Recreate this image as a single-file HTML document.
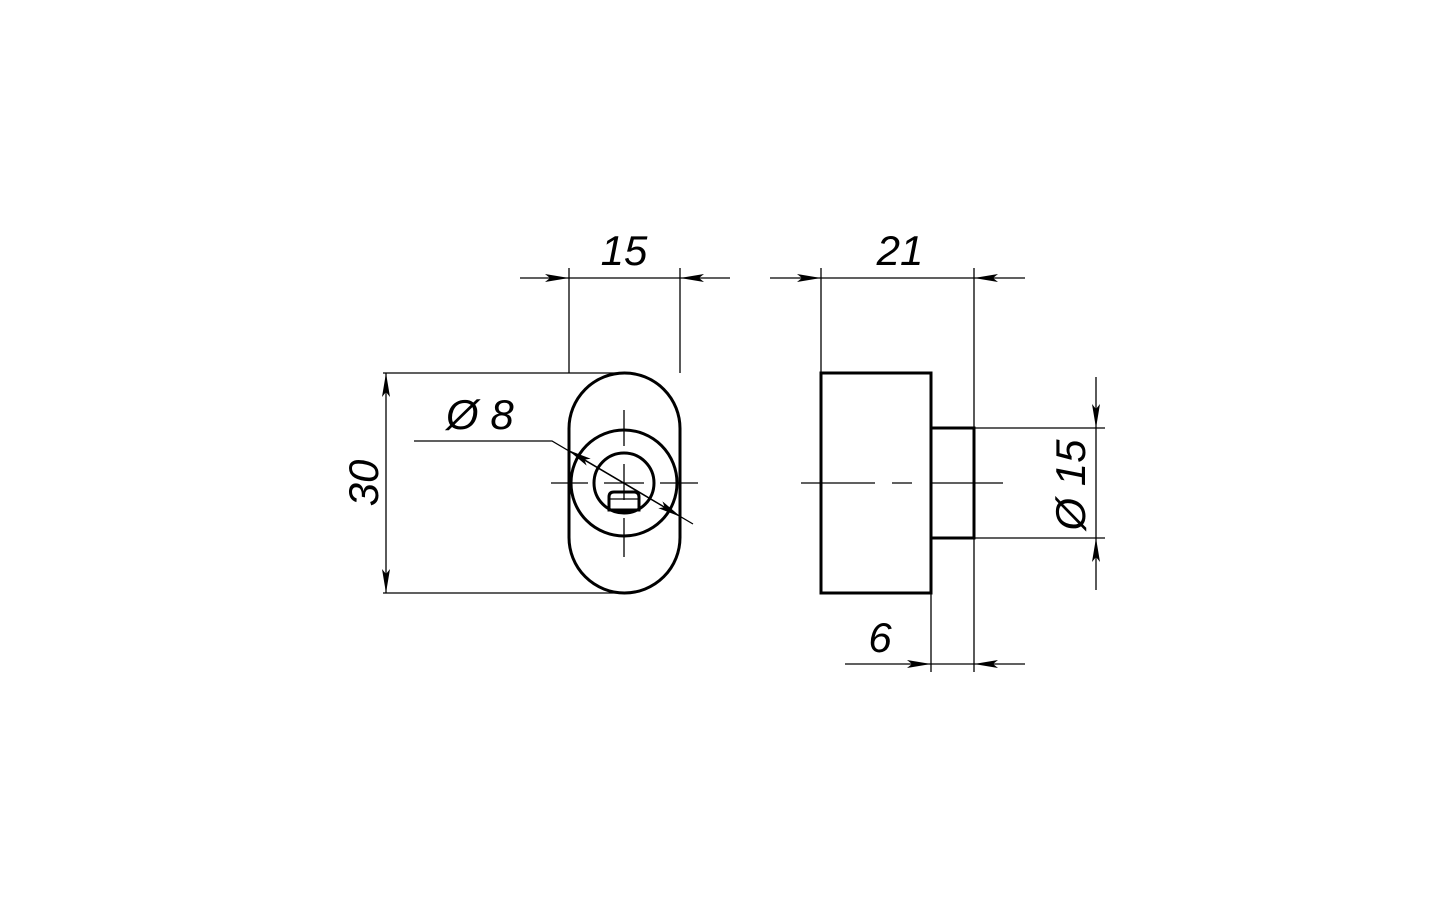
<!DOCTYPE html>
<html><head><meta charset="utf-8"><style>html,body{margin:0;background:#fff}</style></head><body>
<svg width="1440" height="900" viewBox="0 0 1440 900" xmlns="http://www.w3.org/2000/svg" font-family="Liberation Sans, sans-serif" font-style="italic">
<defs>
<marker id="a" viewBox="0 0 24 8" refX="24" refY="4" markerWidth="24" markerHeight="8" markerUnits="userSpaceOnUse" orient="auto"><path d="M0,0 L24,4 L0,8 L5,4Z" fill="#000"/></marker>
</defs>
<g stroke="#000" fill="none">
<!-- left view -->
<g stroke-width="3">
<rect x="569" y="373" width="111" height="220" rx="55.5" ry="55.5"/>
<circle cx="624" cy="483" r="53"/>
<circle cx="624" cy="483" r="30"/>
<path d="M609,510 L609,497 Q609,492 614,492 L634,492 Q639,492 639,497 L639,510Z"/>
</g>
<g stroke-width="1.3">
<line x1="551" y1="483" x2="588" y2="483"/><line x1="604" y1="483" x2="644" y2="483"/><line x1="660" y1="483" x2="698" y2="483"/>
<line x1="624" y1="410" x2="624" y2="446"/><line x1="624" y1="464" x2="624" y2="500"/><line x1="624" y1="518" x2="624" y2="557"/>
<line x1="609" y1="499" x2="639" y2="499"/>
<line x1="569" y1="268" x2="569" y2="373"/><line x1="680" y1="268" x2="680" y2="373"/>
<line x1="520" y1="278" x2="569" y2="278" marker-end="url(#a)"/><line x1="730" y1="278" x2="680" y2="278" marker-end="url(#a)"/>
<line x1="569" y1="278" x2="680" y2="278"/>
<line x1="383" y1="373" x2="620" y2="373"/><line x1="383" y1="593" x2="620" y2="593"/>
<line x1="386" y1="483" x2="386" y2="373" marker-end="url(#a)"/><line x1="386" y1="483" x2="386" y2="593" marker-end="url(#a)"/>
<polyline points="414,441 552,441 693,524"/>
<line x1="624" y1="483" x2="568" y2="450" marker-end="url(#a)"/>
<line x1="624" y1="483" x2="681" y2="517" marker-end="url(#a)"/>
</g>
<!-- right view -->
<g stroke-width="3">
<rect x="821" y="373" width="110" height="220"/>
<rect x="931" y="428" width="43" height="110"/>
</g>
<g stroke-width="1.3">
<line x1="801" y1="483" x2="875" y2="483"/><line x1="892" y1="483" x2="912" y2="483"/><line x1="931" y1="483" x2="1003" y2="483"/>
<line x1="821" y1="268" x2="821" y2="373"/><line x1="974" y1="268" x2="974" y2="428"/>
<line x1="770" y1="278" x2="821" y2="278" marker-end="url(#a)"/><line x1="1025" y1="278" x2="974" y2="278" marker-end="url(#a)"/>
<line x1="821" y1="278" x2="974" y2="278"/>
<line x1="931" y1="593" x2="931" y2="672"/><line x1="974" y1="538" x2="974" y2="672"/>
<line x1="845" y1="664" x2="931" y2="664" marker-end="url(#a)"/><line x1="1025" y1="664" x2="974" y2="664" marker-end="url(#a)"/>
<line x1="931" y1="664" x2="974" y2="664"/>
<line x1="974" y1="428" x2="1105" y2="428"/><line x1="974" y1="538" x2="1105" y2="538"/>
<line x1="1096" y1="377" x2="1096" y2="428" marker-end="url(#a)"/><line x1="1096" y1="590" x2="1096" y2="538" marker-end="url(#a)"/>
<line x1="1096" y1="428" x2="1096" y2="538"/>
</g>
</g>
<g font-size="42" fill="#000">
<text x="624" y="265" text-anchor="middle">15</text>
<text x="900" y="265" text-anchor="middle">21</text>
<text x="880" y="652" text-anchor="middle">6</text>
<text transform="translate(378,483) rotate(-90)" text-anchor="middle">30</text>
<text x="446" y="429">Ø 8</text>
<text transform="translate(1085,485) rotate(-90)" text-anchor="middle">Ø 15</text>
</g>
</svg>
</body></html>
